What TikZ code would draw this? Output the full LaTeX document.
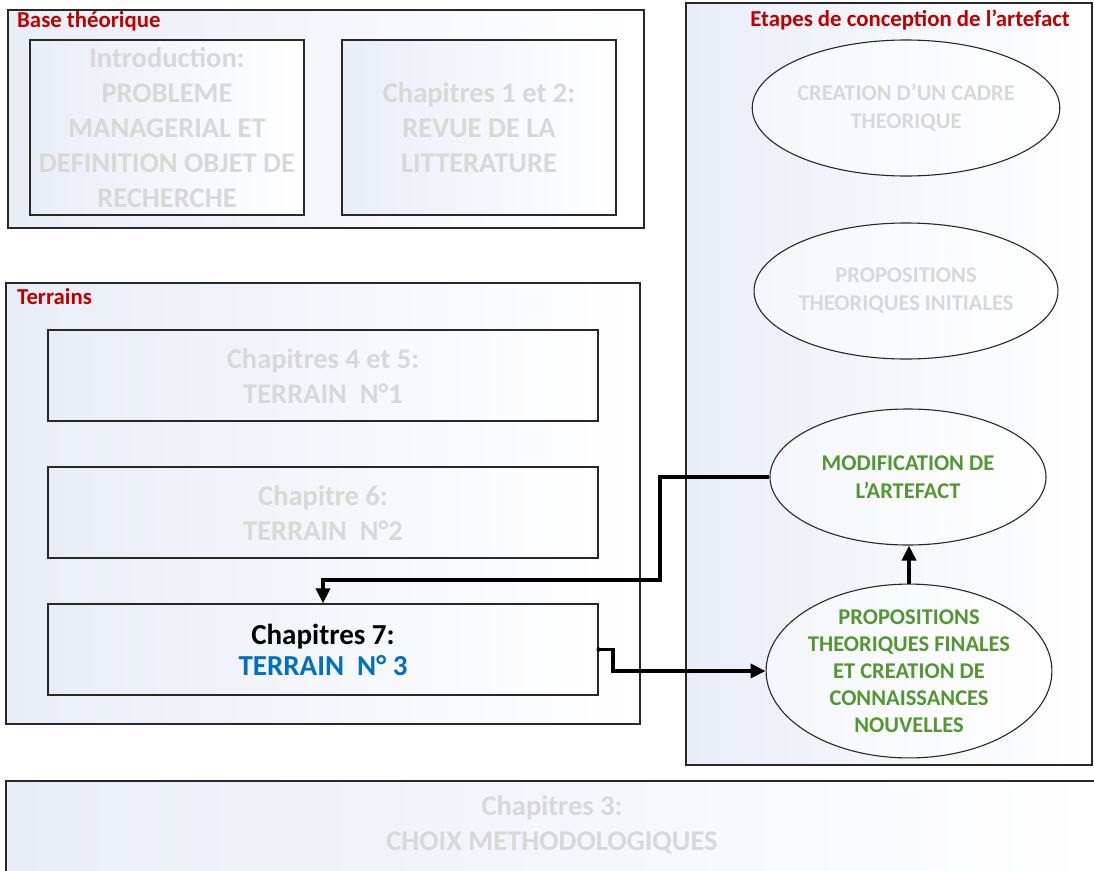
\documentclass[tikz,border=0pt]{standalone}
\usepackage{fontspec}
\setmainfont{Carlito}
\usetikzlibrary{arrows.meta,shapes.geometric}
\definecolor{txtgray}{RGB}{216,216,216}
\definecolor{lbred}{RGB}{192,0,0}
\definecolor{grn}{RGB}{84,150,52}
\definecolor{blu}{RGB}{0,112,192}
\definecolor{shd}{RGB}{233,237,246}
\definecolor{edge}{RGB}{40,40,40}
\begin{document}
\begin{tikzpicture}[x=1pt,y=-1pt,
  frame/.style={draw=edge, line width=1.3pt, left color=shd, right color=white, inner sep=0pt},
  inbox/.style={frame, align=center, text=txtgray, font=\fontsize{28.5}{35}\selectfont\bfseries},
  grpbox/.style={frame},
  grplabel/.style={text=lbred, font=\fontsize{22.8}{26}\selectfont\bfseries, inner sep=0pt},
  oval/.style={ellipse, draw=edge, line width=1.1pt, left color=shd!50, right color=white, inner sep=0pt,
    minimum width=276pt, minimum height=136pt, align=center, font=\fontsize{22.5}{28}\selectfont\bfseries},
  arr/.style={line width=3.6pt, -{Triangle[length=15pt,width=14pt]}}
]
\useasboundingbox (0,0) rectangle (1094,870);
% Base theorique
\node[grpbox, minimum width=636pt, minimum height=218pt] (base) at (326,119) {};
\node[grplabel, anchor=west] (baseL) at (17,21) {Base théorique};
\node[inbox, minimum width=274pt, minimum height=175pt] (intro) at (167,127.5)
  {Introduction:\\PROBLEME\\MANAGERIAL ET\\DEFINITION OBJET DE\\RECHERCHE};
\node[inbox, minimum width=274pt, minimum height=175pt] (lit) at (479,127.5)
  {Chapitres 1 et 2:\\REVUE DE LA\\LITTERATURE};
% Etapes
\node[grpbox, minimum width=406pt, minimum height=762pt] (etapes) at (889,384) {};
\node[grplabel] (etapesL) at (910,20) {Etapes de conception de l’artefact};
\node[oval, text=txtgray] (e1) at (906,108) {CREATION D’UN CADRE\\THEORIQUE};
\node[oval, text=txtgray] (e2) at (906,291) {PROPOSITIONS\\THEORIQUES INITIALES};
\node[oval, text=grn] (e3) at (908,477) {MODIFICATION DE\\L’ARTEFACT};
\node[oval, text=grn, minimum height=172pt, font=\fontsize{22.5}{27}\selectfont\bfseries] (e4) at (909,671)
  {PROPOSITIONS\\THEORIQUES FINALES\\ET CREATION DE\\CONNAISSANCES\\NOUVELLES};
% Terrains
\node[grpbox, minimum width=634pt, minimum height=441pt] (terr) at (323,503.5) {};
\node[grplabel, anchor=west] (terrL) at (17,297) {Terrains};
\node[inbox, minimum width=550pt, minimum height=91pt] (t1) at (323,375.5) {Chapitres 4 et 5:\\TERRAIN~~N°1};
\node[inbox, minimum width=550pt, minimum height=91pt] (t2) at (323,512.5) {Chapitre 6:\\TERRAIN~~N°2};
\node[inbox, minimum width=550pt, minimum height=91pt, text=black, font=\fontsize{29}{31}\selectfont\bfseries] (t3) at (323,649.5)
  {Chapitres 7:\\\textcolor{blu}{TERRAIN~~N° 3}};
% Bottom
\node[inbox, minimum width=1094pt, minimum height=96pt] (meth) at (553,829) {};
\node[text=txtgray, align=center, font=\fontsize{28.5}{35}\selectfont\bfseries, inner sep=0pt] (methT) at (552,825)
  {Chapitres 3:\\CHOIX METHODOLOGIQUES};
% connectors
\draw[arr] (e3.west) -| (660,580) -| (t3.north);
\fill (t3.east) circle (2.2pt);
\draw[arr] (t3.east) -| (613,671) -- (e4.west);
\draw[arr] (e4.north) -- (e4.north |- e3.south);
\end{tikzpicture}
\end{document}
